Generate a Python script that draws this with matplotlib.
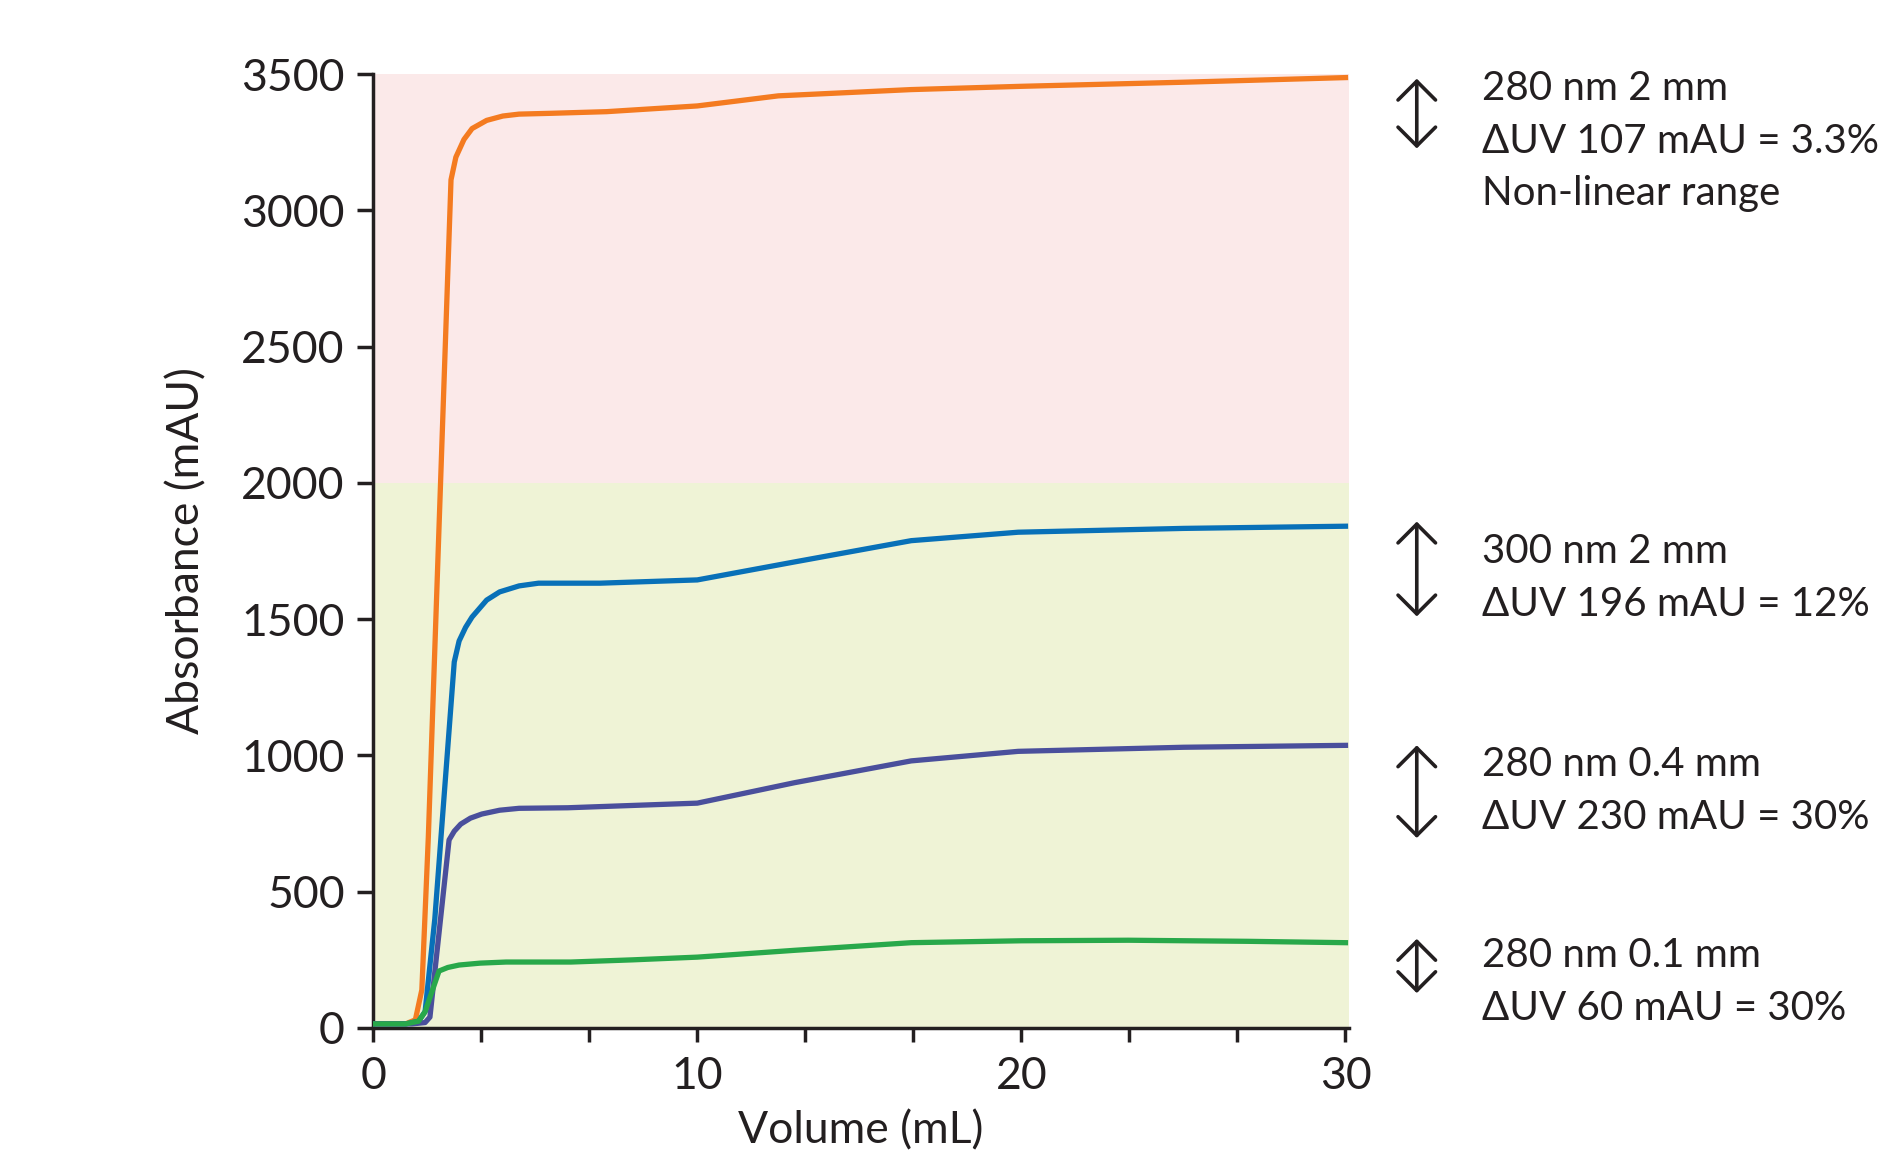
import numpy as np
import matplotlib
matplotlib.use('Agg')
import matplotlib.pyplot as plt

plt.rcParams['font.family'] = ['Lato', 'DejaVu Sans']

# curve data (Volume mL, Absorbance mAU)
vol_orange = [0, 1.0, 1.3, 1.5, 1.7, 2.4, 2.55, 2.8, 3.05, 3.5, 4.0, 4.5, 5.5, 7.2, 10.0, 12.5, 16.6, 20.0, 25.0, 30.0]
abs_orange = [15, 15, 30, 140, 700, 3112, 3195, 3260, 3300, 3330, 3346, 3353, 3356, 3362, 3383, 3420, 3443, 3455, 3470, 3487]

vol_blue = [0, 1.0, 1.4, 1.6, 1.9, 2.5, 2.65, 2.85, 3.05, 3.5, 3.9, 4.5, 5.1, 7.0, 10.0, 13.0, 16.6, 19.9, 25.0, 30.0]
abs_blue = [15, 15, 25, 60, 400, 1343, 1420, 1470, 1508, 1570, 1600, 1622, 1632, 1632, 1644, 1710, 1788, 1819, 1833, 1841]

vol_purple = [0, 1.2, 1.6, 1.75, 2.34, 2.5, 2.7, 3.0, 3.35, 3.9, 4.5, 6.0, 10.0, 13.0, 16.6, 19.9, 25.0, 30.0]
abs_purple = [15, 15, 20, 40, 690, 722, 748, 770, 785, 799, 806, 808, 825, 900, 980, 1015, 1030, 1037]

vol_green = [0, 1.0, 1.4, 1.6, 2.03, 2.3, 2.65, 3.3, 4.1, 6.1, 8.0, 10.0, 13.0, 16.6, 20.0, 23.3, 27.0, 30.0]
abs_green = [15, 15, 25, 60, 209, 222, 231, 238, 242, 242, 250, 260, 285, 313, 320, 322, 318, 313]

series = [
    (vol_orange, abs_orange, '#f47b20'),
    (vol_blue, abs_blue, '#0870b8'),
    (vol_purple, abs_purple, '#4a4f9c'),
    (vol_green, abs_green, '#28a84a'),
]

# annotations: arrow span (mAU) and text lines
arrow_spans = [(3227, 3483), (1510, 1858), (697, 1037), (128, 327)]
notes = [
    ['280 nm 2 mm', '\u0394UV 107 mAU = 3.3%', 'Non-linear range'],
    ['300 nm 2 mm', '\u0394UV 196 mAU = 12%'],
    ['280 nm 0.4 mm', '\u0394UV 230 mAU = 30%'],
    ['280 nm 0.1 mm', '\u0394UV 60 mAU = 30%'],
]
note_first = [3461, 1761, 980, 278]
note_step = 194

ink = '#231f20'

fig = plt.figure(figsize=(18.85, 11.57), dpi=100)
ax = fig.add_axes([0.198, 0.1115, 0.5175, 0.8245])

ax.axhspan(2000, 3500, color='#fbe9e9', lw=0, zorder=0)
ax.axhspan(0, 2000, color='#eff3d6', lw=0, zorder=0)

for x, y, c in series:
    ax.plot(x, y, color=c, lw=3.8, solid_joinstyle='round', zorder=3)

ax.set_xlim(0, 30.1)
ax.set_ylim(0, 3500)
ax.set_xticks(np.arange(0, 30.01, 10 / 3))
ax.set_xticklabels(['0', '', '', '10', '', '', '20', '', '', '30'])
ax.set_yticks(np.arange(0, 3501, 500))

for s in ['top', 'right']:
    ax.spines[s].set_visible(False)
for s in ['left', 'bottom']:
    ax.spines[s].set_linewidth(2.5)
    ax.spines[s].set_color(ink)
ax.tick_params(axis='both', direction='out', width=2.5, color=ink,
               labelsize=32, labelcolor=ink)
ax.tick_params(axis='y', length=11.5, pad=9)
ax.tick_params(axis='x', length=10, pad=10)

ax.set_xlabel('Volume (mL)', fontsize=32, color=ink, labelpad=10)
ax.set_ylabel('Absorbance (mAU)', fontsize=32, color=ink, labelpad=24)

for (lo, hi), lines, y0 in zip(arrow_spans, notes, note_first):
    ax.annotate('', xy=(32.2, hi), xytext=(32.2, lo), xycoords='data',
                arrowprops=dict(arrowstyle='<->,head_length=0.45,head_width=0.45',
                                color=ink, lw=2.6, mutation_scale=30,
                                shrinkA=0, shrinkB=0),
                annotation_clip=False)
    for i, line in enumerate(lines):
        ax.text(34.2, y0 - i * note_step, line, fontsize=29, color=ink,
                va='center_baseline', ha='left', clip_on=False)

fig.savefig('out.png', dpi=100)
